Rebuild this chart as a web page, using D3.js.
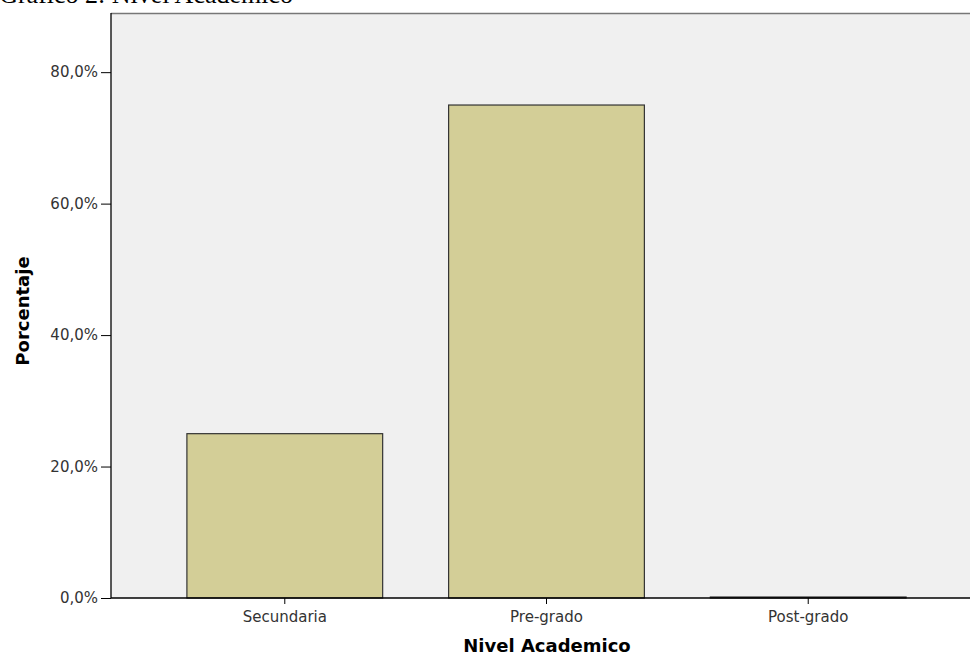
<!DOCTYPE html>
<html><head><meta charset="utf-8">
<script src="https://cdn.jsdelivr.net/npm/d3@7"></script>
<style>body{margin:0;background:#fff}svg{display:block}</style>
</head><body>
<svg id="c" width="970" height="656"></svg>
<script>
const categories = ["Secundaria", "Pre-grado", "Post-grado"];
const values = [25, 75, 0.15];
const yTicks = [0, 20, 40, 60, 80];
const title = "Gráfico 2: Nivel Académico";
const xTitle = "Nivel Academico";
const yTitle = "Porcentaje";

const svg = d3.select("#c");
const L = 111, T = 13, R = 982, B = 598;
const x = d3.scaleBand().domain(categories).range([L, R]).paddingInner(0.252).paddingOuter(0.29);
const y = d3.scaleLinear().domain([0, 89]).range([B, T]);

svg.append("text").attr("x", 293).attr("y", 3).attr("text-anchor", "end").attr("font-family", "Liberation Serif").attr("font-size", 26).attr("fill", "#000").text(title);

svg.append("rect").attr("x", L).attr("y", T).attr("width", R - L).attr("height", B - T).attr("fill", "#f0f0f0");
svg.append("line").attr("x1", L).attr("x2", R).attr("y1", T + 0.5).attr("y2", T + 0.5).attr("stroke", "#777").attr("stroke-width", 1.5);

svg.selectAll("rect.bar").data(categories).join("rect").attr("class", "bar")
  .attr("x", d => x(d)).attr("width", x.bandwidth())
  .attr("y", (d, i) => y(values[i])).attr("height", (d, i) => B - y(values[i]))
  .attr("fill", "#d3ce97").attr("stroke", "#333").attr("stroke-width", 1.2);

const ya = d3.axisLeft(y).tickValues(yTicks).tickSize(10).tickFormat(d => d.toFixed(1).replace(".", ",") + "%");
const gy = svg.append("g").attr("transform", `translate(${L},0)`).call(ya);
gy.select(".domain").remove();
svg.append("line").attr("x1", L).attr("x2", L).attr("y1", T).attr("y2", B).attr("stroke", "#000").attr("stroke-width", 1.3);
gy.selectAll("line").attr("stroke", "#000");
gy.selectAll("text").attr("font-family", "DejaVu Sans").attr("font-size", 15).attr("fill", "#333").attr("x", -13);

const xa = d3.axisBottom(x).tickSize(6).tickSizeOuter(0);
const gx = svg.append("g").attr("transform", `translate(0,${B})`).call(xa);
gx.select(".domain").remove();
svg.append("line").attr("x1", L).attr("x2", R).attr("y1", B).attr("y2", B).attr("stroke", "#000").attr("stroke-width", 1.3);
gx.selectAll("line").attr("stroke", "#000");
gx.selectAll("text").attr("font-family", "DejaVu Sans").attr("font-size", 15).attr("fill", "#333").attr("dy", null).attr("y", 24);

svg.append("text").attr("x", 547).attr("y", 652).attr("text-anchor", "middle").attr("font-family", "DejaVu Sans").attr("font-weight", "bold").attr("font-size", 18).attr("fill", "#000").text(xTitle);
svg.append("text").attr("transform", "translate(29,311) rotate(-90)").attr("text-anchor", "middle").attr("font-family", "DejaVu Sans").attr("font-weight", "bold").attr("font-size", 18).attr("fill", "#000").text(yTitle);
</script>
</body></html>
